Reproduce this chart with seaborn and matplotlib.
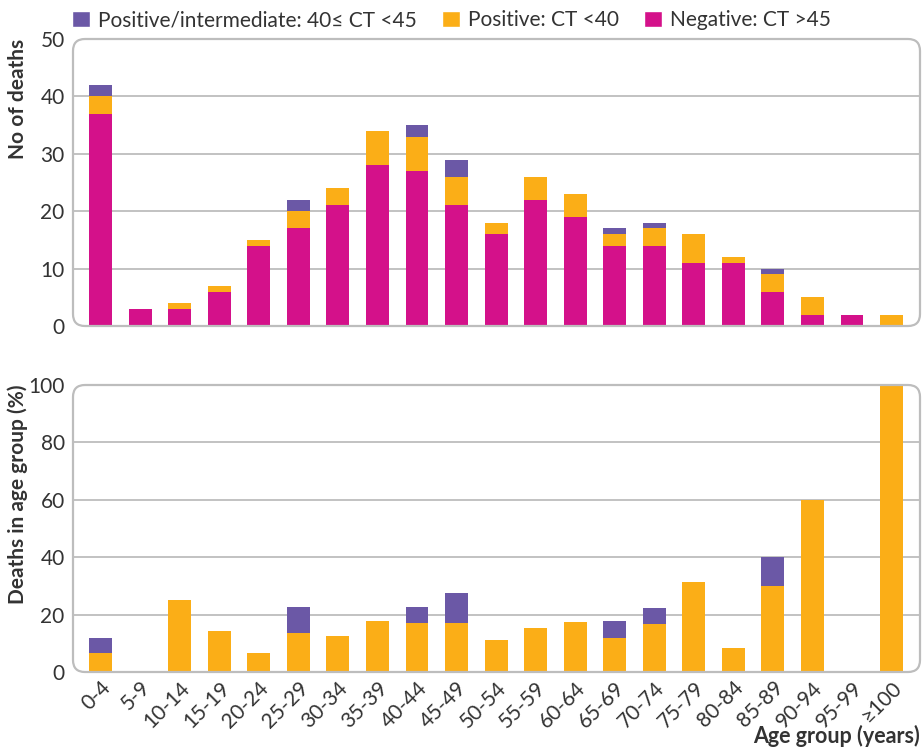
import matplotlib
matplotlib.use("Agg")
import matplotlib.pyplot as plt
from matplotlib.patches import FancyBboxPatch, Patch
import seaborn as sns
import numpy as np

ages = ["0-4", "5-9", "10-14", "15-19", "20-24", "25-29", "30-34", "35-39", "40-44", "45-49",
        "50-54", "55-59", "60-64", "65-69", "70-74", "75-79", "80-84", "85-89", "90-94", "95-99", "≥100"]
negative = [37, 3, 3, 6, 14, 17, 21, 28, 27, 21, 16, 22, 19, 14, 14, 11, 11, 6, 2, 2, 0]
positive = [3, 0, 1, 1, 1, 3, 3, 6, 6, 5, 2, 4, 4, 2, 3, 5, 1, 3, 3, 0, 2]
intermediate = [2, 0, 0, 0, 0, 2, 0, 0, 2, 3, 0, 0, 0, 1, 1, 0, 0, 1, 0, 0, 0]
pct_positive = [6.7, 0, 25.0, 14.3, 6.7, 13.6, 12.5, 17.6, 17.1, 17.2, 11.1, 15.4, 17.4, 11.8, 16.7,
                31.3, 8.3, 30.0, 60.0, 0, 100.0]
pct_intermediate = [5.2, 0, 0, 0, 0, 9.1, 0, 0, 5.7, 10.3, 0, 0, 0, 5.9, 5.6, 0, 0, 10.0, 0, 0, 0]

legend_labels = ["Positive/intermediate: 40≤ CT <45", "Positive: CT <40", "Negative: CT >45"]

C_INT = "#6b58a6"
C_POS = "#fbae17"
C_NEG = "#d4118a"
GRID = "#bdbdbd"
TXT = "#333333"
FS = 15

sns.set_theme(style="white")
plt.rcParams["font.family"] = ["Lato", "DejaVu Sans"]

fig = plt.figure(figsize=(9.23, 7.48), dpi=100)
W, H = 923, 748
def axrect(l, t, r, b):
    return [l / W, 1 - b / H, (r - l) / W, (b - t) / H]

ax1 = fig.add_axes(axrect(73, 39, 920, 326))
ax2 = fig.add_axes(axrect(73, 385, 920, 672))

neg = np.array(negative)
pos = np.array(positive)
inter = np.array(intermediate)
tot1 = neg + pos + inter
np_ = neg + pos

bw = 0.58
kw = dict(width=bw, saturation=1, linewidth=0, edgecolor="none", zorder=3)
sns.barplot(x=ages, y=tot1, color=C_INT, ax=ax1, **kw)
sns.barplot(x=ages, y=np_, color=C_POS, ax=ax1, **kw)
sns.barplot(x=ages, y=neg, color=C_NEG, ax=ax1, **kw)

pp = np.array(pct_positive)
pi = np.array(pct_intermediate)
sns.barplot(x=ages, y=pp + pi, color=C_INT, ax=ax2, **kw)
sns.barplot(x=ages, y=pp, color=C_POS, ax=ax2, **kw)

def style(ax, top, ticks, w_px, h_px):
    ax.set_xlim(-0.7, 20.72)
    ax.set_ylim(0, top)
    ax.set_yticks(ticks)
    for t in ticks[1:-1]:
        ax.axhline(t, color=GRID, lw=1.3, zorder=1)
    for s in ax.spines.values():
        s.set_visible(False)
    r = 12 / w_px
    box = FancyBboxPatch((0, 0), 1, 1, boxstyle=f"round,pad=0,rounding_size={r}",
                         mutation_aspect=w_px / h_px, transform=ax.transAxes,
                         fill=False, ec=GRID, lw=1.6, clip_on=False, zorder=4)
    ax.add_patch(box)
    ax.tick_params(axis="both", length=0, labelsize=FS, colors=TXT, pad=6)
    ax.set_facecolor("white")

style(ax1, 50, [0, 10, 20, 30, 40, 50], 847, 287)
style(ax2, 100, [0, 20, 40, 60, 80, 100], 847, 287)

ax1.set_xticks(range(len(ages)))
ax1.set_xticklabels([])
ax1.set_xlabel("")
ax2.set_xticks(range(len(ages)))
ax2.set_xticklabels(ages, rotation=45, ha="right", rotation_mode="anchor")
ax2.tick_params(axis="x", pad=4)

ax1.set_ylabel("No of deaths", fontsize=FS, fontweight="bold", color=TXT, loc="top")
ax2.set_ylabel("Deaths in age group (%)", fontsize=FS, fontweight="bold", color=TXT, loc="top")
ax1.yaxis.set_label_coords(-0.053, 1.0)
ax2.yaxis.set_label_coords(-0.053, 1.0)
ax2.set_xlabel("Age group (years)", fontsize=FS + 0.5, fontweight="bold", color=TXT, loc="right")
ax2.xaxis.set_label_coords(1.0, -0.183)

handles = [Patch(facecolor=C_INT), Patch(facecolor=C_POS), Patch(facecolor=C_NEG)]
fig.legend(handles, legend_labels, loc="upper left", bbox_to_anchor=(64 / W, 1 - 2 / H),
           ncol=3, frameon=False, fontsize=FS, handlelength=0.85, handleheight=0.85,
           handletextpad=0.4, columnspacing=1.2, labelcolor=TXT, borderaxespad=0)

fig.savefig("out.png", dpi=100, facecolor="white")
